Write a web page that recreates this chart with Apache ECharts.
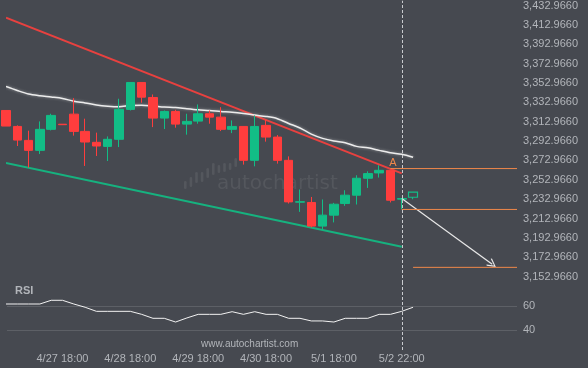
<!DOCTYPE html>
<html><head><meta charset="utf-8">
<script src="https://cdn.jsdelivr.net/npm/echarts@6/dist/echarts.min.js"></script>
<style>html,body{margin:0;padding:0;background:#464950;}#c{width:588px;height:368px;}</style>
</head><body><div id="c"></div>
<script>
// ---- data ----
const xTickIndex = [5, 11, 17, 23, 29, 35];
const xTickLabels = ['4/27 18:00', '4/28 18:00', '4/29 18:00', '4/30 18:00', '5/1 18:00', '5/2 22:00'];
const priceTicks = [3152.966, 3172.966, 3192.966, 3212.966, 3232.966, 3252.966, 3272.966, 3292.966,
  3312.966, 3332.966, 3352.966, 3372.966, 3392.966, 3412.966, 3432.966];
const rsiTicks = [40, 60];

const opens = [3324.6, 3308.1, 3293.7, 3283.4, 3305.1, 3310.4, 3320.8, 3303.0, 3291.7, 3287.5,
  3294.8, 3325.7, 3353.5, 3338.0, 3316.7, 3323.6, 3310.5, 3313.6, 3321.2, 3317.7,
  3305.1, 3308.1, 3273.1, 3309.2, 3297.1, 3273.1, 3229.9, 3229.6, 3205.2, 3216.5,
  3228.5, 3237.1, 3254.6, 3260.1, 3262.8, 3233.0];
const closes = [3308.5, 3294.0, 3283.4, 3305.1, 3319.5, 3309.9, 3303.0, 3292.0, 3287.9, 3294.8,
  3325.7, 3353.5, 3338.3, 3316.7, 3323.6, 3310.5, 3313.3, 3321.2, 3317.7, 3305.1,
  3308.1, 3273.1, 3308.1, 3297.1, 3273.1, 3230.2, 3230.4, 3205.2, 3216.5, 3227.8,
  3237.1, 3254.6, 3259.4, 3262.8, 3231.9, 3233.7];
const lows = [3308.5, 3287.9, 3265.6, 3279.6, 3304.0, 3309.9, 3298.6, 3267.3, 3277.6, 3272.4,
  3286.8, 3324.6, 3332.6, 3307.4, 3305.4, 3306.8, 3299.6, 3310.9, 3310.9, 3303.3,
  3301.2, 3268.7, 3266.9, 3292.4, 3269.7, 3228.5, 3219.9, 3203.8, 3201.8, 3209.0,
  3226.1, 3227.5, 3244.6, 3255.3, 3229.6, 3222.7];
const highs = [3324.6, 3309.2, 3303.7, 3313.3, 3321.2, 3310.4, 3337.3, 3316.1, 3301.7, 3297.8,
  3336.7, 3353.5, 3353.5, 3341.1, 3324.6, 3325.3, 3321.2, 3330.8, 3324.6, 3328.0,
  3314.3, 3308.1, 3319.5, 3315.0, 3299.2, 3277.2, 3243.0, 3235.3, 3232.7, 3229.2,
  3242.2, 3257.7, 3261.8, 3268.0, 3263.5, 3234.0];
const forecastCandle = [36, 3235.0, 3240.2, 3233.0, 3240.2]; // index, open, close, low, high

const maValues = [3349.3, 3345.2, 3341.6, 3339.8, 3338.5, 3337.0, 3334.1, 3332.4, 3330.3, 3329.0,
  3328.4, 3329.8, 3330.1, 3329.3, 3328.2, 3327.7, 3326.4, 3325.3, 3324.6, 3323.6,
  3322.8, 3321.5, 3319.8, 3318.4, 3316.1, 3311.2, 3306.5, 3300.2, 3295.8, 3293.0,
  3291.2, 3287.5, 3286.0, 3283.4, 3280.9, 3279.3, 3276.2];
const rsiValues = [61.9, 61.9, 61.9, 61.9, 65.0, 65.0, 61.9, 59.2, 55.8, 55.8,
  55.8, 55.8, 53.3, 50.0, 50.0, 46.9, 50.3, 53.3, 53.3, 53.3,
  55.5, 53.3, 55.5, 53.3, 53.3, 50.0, 50.0, 47.8, 47.8, 46.9,
  50.0, 50.0, 50.0, 53.3, 53.3, 55.8, 59.2];

const resistance = [[0, 3420.3], [35, 3259.7]];
const support = [[0, 3270.5], [35, 3183.8]];
const levelA = 3264.6, levelA_start = 34;
const levelLow = 3222.4, levelLow_start = 35;
const target = 3162.6, target_start = 36;
const arrowFrom = [35, 3233.7];
const arrowTo = [43.0, 3165.8];
const nowIndex = 35;

// ---- layout constants ----
const X_MIN = 0.093, X_MAX = 45.19;
const Y_MIN = 3146.45, Y_MAX = 3437.91;
const RSI_MIN = 23.6, RSI_MAX = 79.4;
const BG = '#464950', TXT = '#b2b5ba';
const UP = '#12bd86', DOWN = '#ff3d3d';
const ORANGE = '#f0884a';
const FONT = 'Liberation Sans';

const candleData = opens.map((o, i) => [i, o, closes[i], lows[i], highs[i]]);
const fmtPrice = v => v.toLocaleString('en-US', {minimumFractionDigits: 4, maximumFractionDigits: 4});

const chart = echarts.init(document.getElementById('c'));

const logoBars = [[184, 181, 8], [189.6, 177, 10], [195.2, 172, 11], [200.8, 172, 10], [206.4, 168, 10],
  [212, 163, 12], [217.6, 165, 8], [223.2, 163, 9], [228.8, 163, 7], [234.4, 158, 9]];

const dashLine = {
  silent: true, symbol: 'none', label: {show: false},
  lineStyle: {color: '#c9cbcf', type: [3, 2], width: 1},
  data: [{xAxis: nowIndex}]
};

chart.setOption({
  backgroundColor: BG,
  animation: false,
  textStyle: {fontFamily: FONT},
  grid: [
    {left: 7, right: 71, top: 0, bottom: 85},
    {left: 7, right: 71, top: 283, bottom: 18}
  ],
  xAxis: [
    {gridIndex: 0, type: 'value', min: X_MIN, max: X_MAX, show: false},
    {gridIndex: 1, type: 'value', min: X_MIN, max: X_MAX,
      axisLine: {show: false}, axisTick: {show: false}, splitLine: {show: false},
      axisLabel: {customValues: xTickIndex, formatter: v => xTickLabels[xTickIndex.indexOf(v)] || '',
        color: TXT, fontSize: 11, margin: 3, fontFamily: FONT}}
  ],
  yAxis: [
    {gridIndex: 0, type: 'value', position: 'right', min: Y_MIN, max: Y_MAX,
      axisLine: {show: false}, axisTick: {show: false}, splitLine: {show: false},
      axisLabel: {customValues: priceTicks, formatter: fmtPrice, color: TXT, fontSize: 11, margin: 6, fontFamily: FONT}},
    {gridIndex: 1, type: 'value', position: 'right', min: RSI_MIN, max: RSI_MAX,
      axisLine: {show: false}, axisTick: {show: false, customValues: rsiTicks},
      splitLine: {show: true, lineStyle: {color: '#5d6066', width: 1}},
      axisLabel: {customValues: rsiTicks, color: TXT, fontSize: 11, margin: 6, fontFamily: FONT}}
  ],
  graphic: [
    ...logoBars.map(b => ({type: 'rect', z: 0, shape: {x: b[0], y: b[1], width: 2.6, height: b[2], r: 1.3},
      style: {fill: '#54575d'}})),
    {type: 'text', z: 0, left: 217, top: 174, style: {text: 'autochartist', font: '20px "DejaVu Sans"', fill: '#54575d'}},
    {type: 'text', z: 5, left: 201, top: 339, style: {text: 'www.autochartist.com', font: '10px "Liberation Sans"', fill: TXT}},
    {type: 'text', z: 5, left: 15, top: 285, style: {text: 'RSI', font: 'bold 11px "Liberation Sans"', fill: TXT}}
  ],
  series: [
    {type: 'line', xAxisIndex: 0, yAxisIndex: 0, data: resistance, symbol: 'none', z: 3,
      lineStyle: {color: '#e8413f', width: 2}},
    {type: 'line', xAxisIndex: 0, yAxisIndex: 0, data: support, symbol: 'none', z: 3,
      lineStyle: {color: '#16b27f', width: 2}},
    {type: 'line', xAxisIndex: 0, yAxisIndex: 0, data: maValues.map((v, i) => [i, v]), symbol: 'none', smooth: 0.3, z: 3,
      lineStyle: {color: '#ececec', width: 1.5, shadowColor: 'rgba(255,255,255,0.45)', shadowBlur: 3}},
    {type: 'candlestick', xAxisIndex: 0, yAxisIndex: 0, data: candleData, barWidth: 9, z: 4,
      encode: {x: 0, y: [1, 2, 3, 4]},
      itemStyle: {color: UP, color0: DOWN, borderColor: UP, borderColor0: DOWN, borderWidth: 1},
      markLine: dashLine},
    {type: 'candlestick', xAxisIndex: 0, yAxisIndex: 0, data: [forecastCandle], barWidth: 9, z: 4,
      encode: {x: 0, y: [1, 2, 3, 4]},
      itemStyle: {color: 'rgba(0,0,0,0)', color0: 'rgba(0,0,0,0)', borderColor: UP, borderColor0: UP, borderWidth: 1.2}},
    {type: 'line', xAxisIndex: 0, yAxisIndex: 0, data: [[levelA_start, levelA], [X_MAX, levelA]], symbol: 'none', z: 5,
      lineStyle: {color: ORANGE, width: 1},
      markPoint: {symbol: 'circle', symbolSize: 0, silent: true,
        data: [{coord: [levelA_start, levelA], label: {show: true, formatter: 'A', position: 'top', distance: 0,
          offset: [2.5, 0], color: ORANGE, fontSize: 11, fontFamily: FONT}}]}},
    {type: 'line', xAxisIndex: 0, yAxisIndex: 0, data: [[levelLow_start, levelLow], [X_MAX, levelLow]], symbol: 'none', z: 5,
      lineStyle: {color: ORANGE, width: 1}},
    {type: 'line', xAxisIndex: 0, yAxisIndex: 0, data: [[target_start, target], [X_MAX, target]], symbol: 'none', z: 5,
      lineStyle: {color: ORANGE, width: 1},
      markLine: {silent: true, symbol: ['none', 'path://M5,0 L10,9 L9,10 L5,2.5 L1,10 L0,9 Z'], symbolSize: [9, 9],
        label: {show: false}, lineStyle: {color: '#e8e8e8', width: 1.2, type: 'solid'},
        data: [[{coord: arrowFrom}, {coord: arrowTo}]]}},
    {type: 'line', xAxisIndex: 1, yAxisIndex: 1, data: rsiValues.map((v, i) => [i, v]), symbol: 'none', z: 3,
      lineStyle: {color: '#f2f2f2', width: 1},
      markLine: dashLine}
  ]
});
</script></body></html>
